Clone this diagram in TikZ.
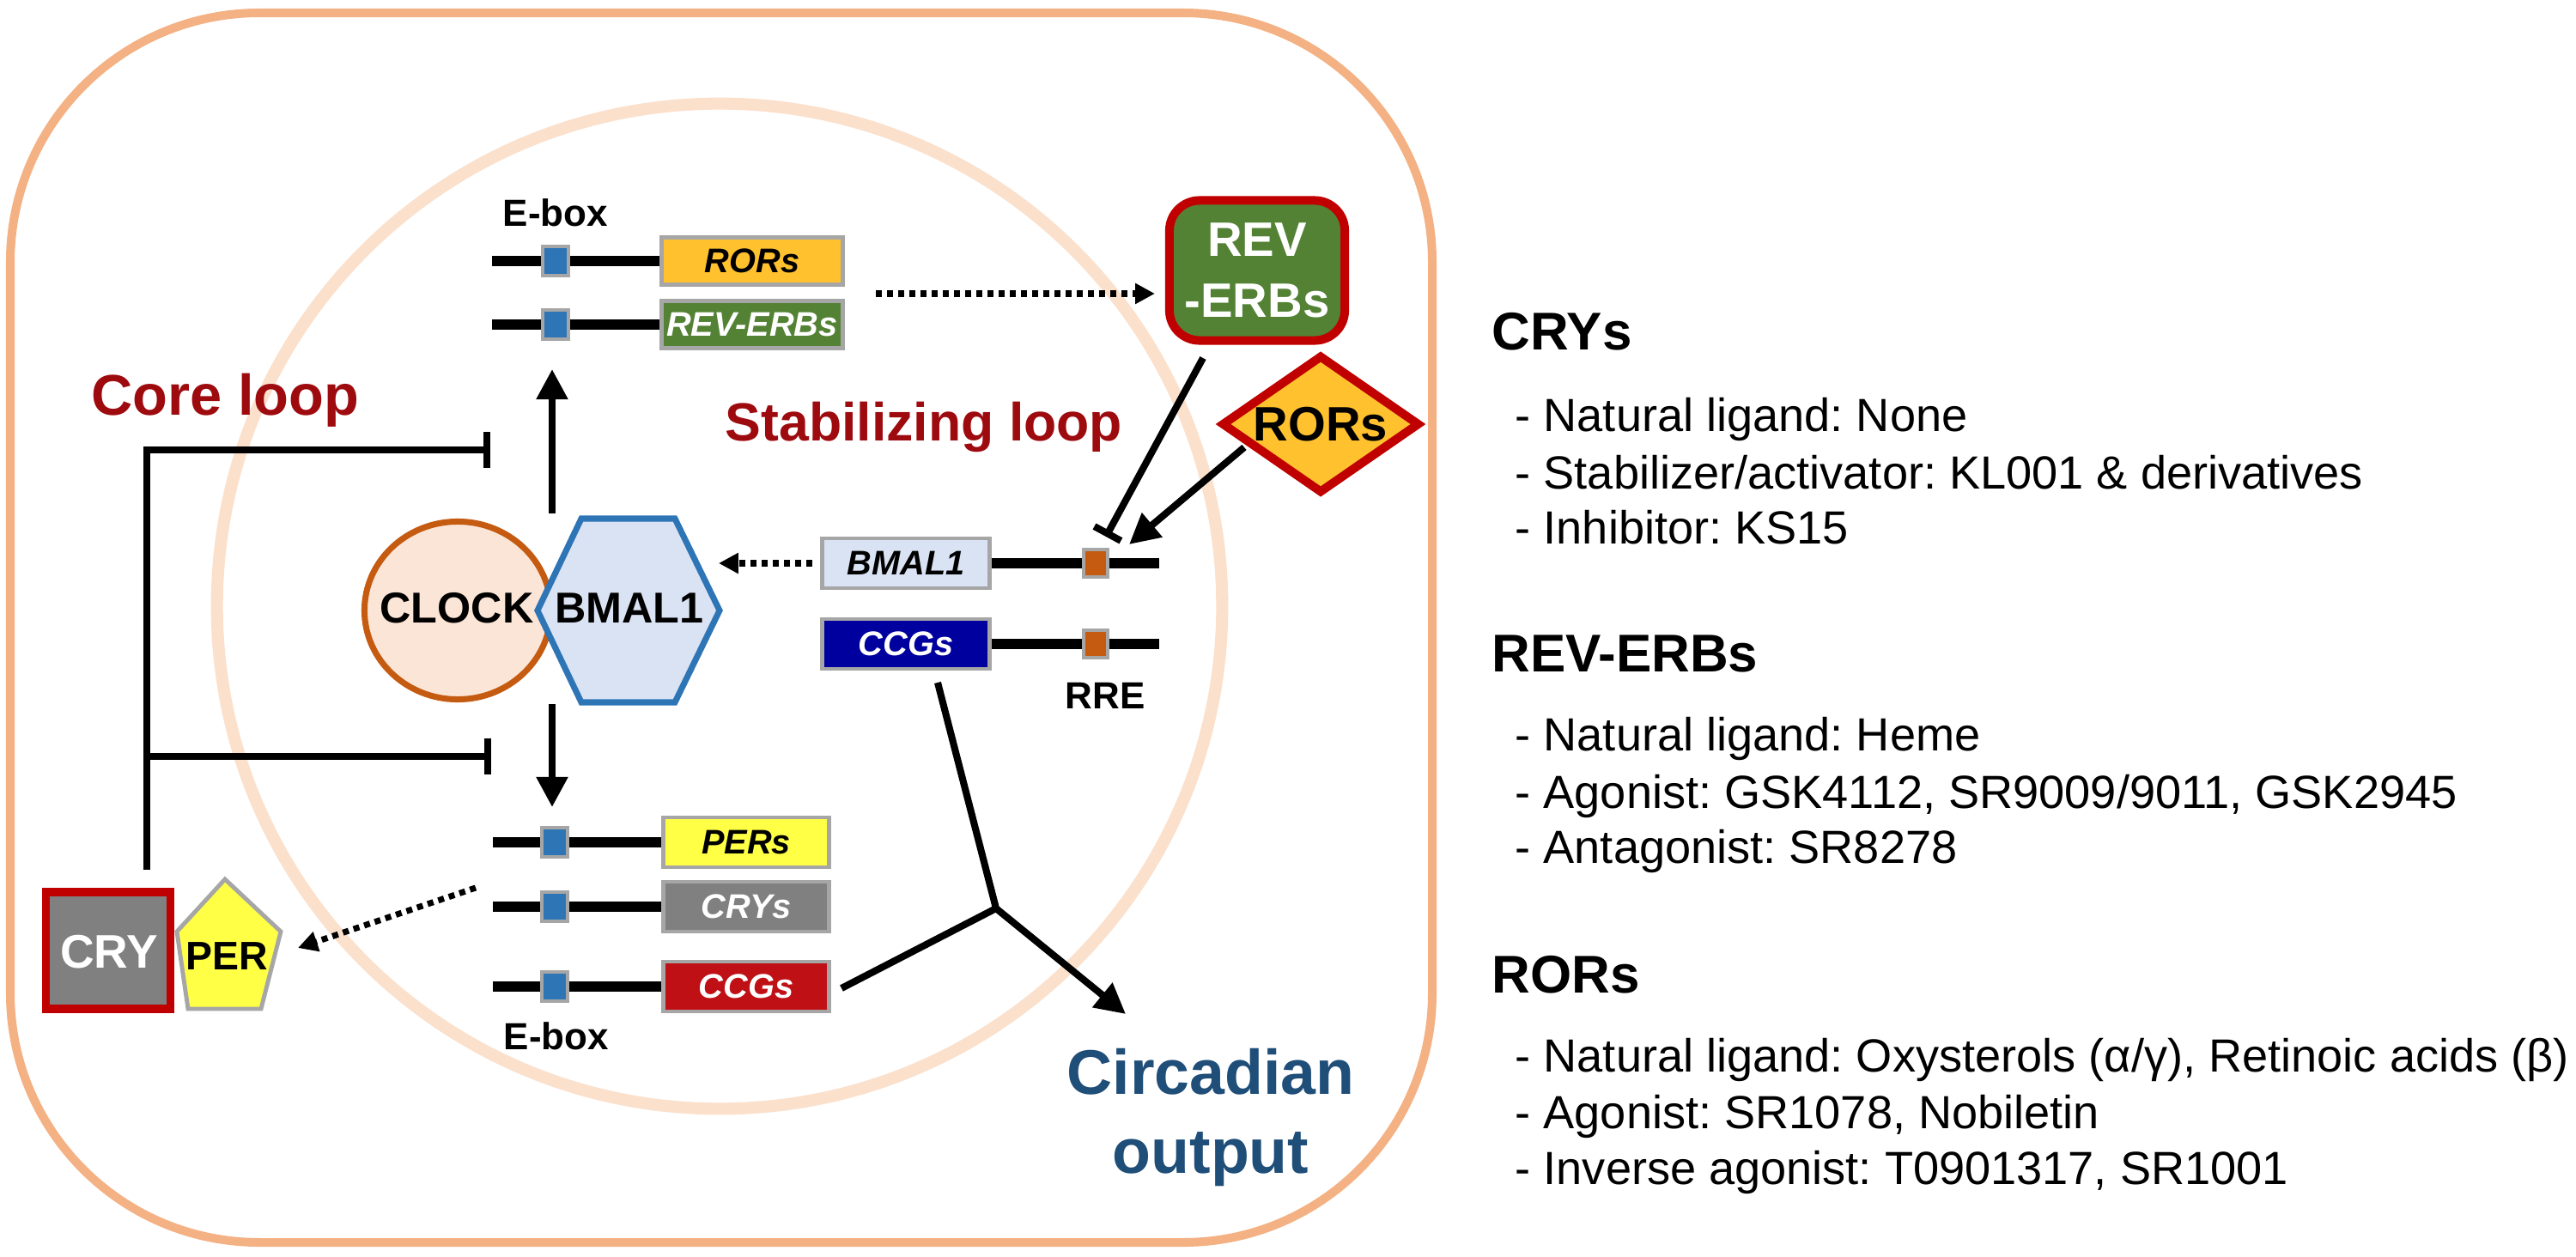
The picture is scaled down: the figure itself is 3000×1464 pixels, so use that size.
\documentclass[tikz,border=0pt]{standalone}
\usepackage{fontspec}
\setmainfont{Liberation Sans}
\frenchspacing
\usetikzlibrary{arrows.meta,shapes.geometric}
\definecolor{outerc}{HTML}{F4B183}
\definecolor{nucc}{HTML}{FBE0CC}
\definecolor{boxgray}{HTML}{A6A6A6}
\definecolor{eblue}{HTML}{2E75B6}
\definecolor{rreor}{HTML}{C55A11}
\definecolor{rorfill}{HTML}{FFC12E}
\definecolor{revgreen}{HTML}{548235}
\definecolor{darkred}{HTML}{C00000}
\definecolor{bmalfill}{HTML}{DAE3F3}
\definecolor{ccgblue}{HTML}{00009E}
\definecolor{peryel}{HTML}{FFFF45}
\definecolor{crygray}{HTML}{808080}
\definecolor{ccgred}{HTML}{BF1016}
\definecolor{clockfill}{HTML}{FBE5D6}
\definecolor{looptxt}{HTML}{9E0B0F}
\definecolor{outtxt}{HTML}{1F4E79}
\tikzset{
  gbox/.style={draw=boxgray, line width=1.4pt, inner sep=0pt, minimum width=1.93cm, minimum height=0.58cm, font=\fontsize{11.3pt}{13pt}\selectfont\bfseries\itshape},
  topbox/.style={gbox, minimum width=2.11cm, minimum height=0.55cm},
  ebox/.style={draw=boxgray, line width=1.1pt, fill=eblue, inner sep=0pt, minimum width=0.30cm, minimum height=0.34cm},
  rbox/.style={draw=boxgray, line width=1.1pt, fill=rreor, inner sep=0pt, minimum width=0.28cm, minimum height=0.32cm},
  gline/.style={line width=3.4pt},
  conn/.style={line width=2.3pt},
  arr/.style={conn, -{Triangle[length=10pt,width=10pt]}},
  inhib/.style={conn, -{Bar[width=12pt]}},
  dotarr/.style={line width=2pt, dash pattern=on 2pt off 1.7pt, -{Triangle[length=6.5pt,width=6.5pt]}},
  lbl/.style={font=\fontsize{12.5pt}{15pt}\selectfont\bfseries, inner sep=0pt},
  protf/.style={font=\fontsize{14.3pt}{16pt}\selectfont\bfseries, inner sep=0pt},
  bigf/.style={font=\fontsize{16pt}{20pt}\selectfont\bfseries, inner sep=0pt},
  headf/.style={font=\fontsize{17.6pt}{20pt}\selectfont\bfseries, inner sep=0pt, anchor=base west},
  bodyf/.style={font=\fontsize{15.4pt}{18pt}\selectfont, inner sep=0pt, anchor=base west},
}
\begin{document}
\begin{tikzpicture}[x=0.01cm,y=-0.01cm]
\useasboundingbox (0,0) rectangle (3000,1464);
\fill[white] (0,0) rectangle (3000,1464);
% nucleus and cell
\draw[draw=nucc, line width=4pt] (838,706) circle[radius=5.85cm];
\draw[draw=outerc, line width=2.85pt, rounded corners=2.9cm] (12,15) rectangle (1668,1447);

% top gene rows
\node[topbox, fill=rorfill] (gRORs) at (876,304) {RORs};
\node[topbox, fill=revgreen, text=white] (gREV) at (876,378) {REV-ERBs};
\coordinate (l1) at (573,304);
\coordinate (l2) at (573,378);
\draw[gline] (l1) -- (gRORs.west);
\draw[gline] (l2) -- (gREV.west);
\node[ebox] (e1) at (647,304) {};
\node[ebox] (e2) at (647,378) {};
\node[lbl, anchor=base west] (ebTop) at (585,264) {E-box};

% REV-ERBs protein
\node[draw=darkred, fill=revgreen, line width=2.85pt, rounded corners=0.35cm, minimum width=2.04cm, minimum height=1.63cm, align=center, text=white, font=\fontsize{16pt}{20pt}\selectfont\bfseries, inner sep=0pt] (pREV) at (1464,315) {REV\\-ERBs};
\coordinate (d1s) at (1020,342);
\draw[dotarr, shorten >=0.12cm] (d1s) -- (d1s -| pREV.west);

% RORs protein
\node[diamond, draw=darkred, fill=rorfill, line width=2.85pt, minimum width=2.31cm, minimum height=1.61cm, inner sep=0pt] (pROR) at (1538,494) {};
\node[bigf] (tROR) at (pROR) {RORs};

% loops labels
\node[font=\fontsize{19pt}{22pt}\selectfont\bfseries, text=looptxt, anchor=base west, inner sep=0pt] (core) at (106,484) {Core loop};
\node[font=\fontsize{17.8pt}{21pt}\selectfont\bfseries, text=looptxt, anchor=base west, inner sep=0pt] (stab) at (844,513) {Stabilizing loop};

% RRE rows
\node[gbox, fill=bmalfill, minimum width=1.94cm] (gBMAL) at (1055,656) {BMAL1};
\node[gbox, fill=ccgblue, text=white, minimum width=1.94cm] (gCCGb) at (1055,750) {CCGs};
\coordinate (r1) at (1350,656);
\coordinate (r2) at (1350,750);
\draw[gline] (gBMAL.east) -- (r1);
\draw[gline] (gCCGb.east) -- (r2);
\node[rbox] (o1) at (1276,656) {};
\node[rbox] (o2) at (1276,750) {};
\node[lbl, anchor=base west] (rre) at (1240,825) {RRE};

% REV-ERBs inhibits, RORs activates
\coordinate (revS) at (1401,417);
\coordinate (revE) at (1288,625);
\draw[conn, -{Bar[width=10pt]}] (revS) -- (revE);
\coordinate (rorS) at (1449,521);
\coordinate (rorE) at (1315,634);
\draw[arr] (rorS) -- (rorE);

% CLOCK : BMAL1
\node[ellipse, draw=rreor, fill=clockfill, line width=2pt, minimum width=2.17cm, minimum height=2.07cm, inner sep=0pt] (clock) at (533,711) {};
\node[protf] (tCLOCK) at (532,708) {CLOCK};
\coordinate (hL) at (626,711);
\coordinate (hTL) at (677,604);
\coordinate (hTR) at (786,604);
\coordinate (hR) at (838,711);
\coordinate (hBR) at (786,818);
\coordinate (hBL) at (677,818);
\draw[draw=eblue, fill=bmalfill, line width=2pt, line join=miter] (hL) -- (hTL) -- (hTR) -- (hR) -- (hBR) -- (hBL) -- cycle;
\node[protf] (tBMAL) at (733,708) {BMAL1};
\coordinate (bmTip) at (837,656);
\draw[dotarr, shorten <=0.09cm] (gBMAL.west) -- (bmTip);

% up / down arrows
\coordinate (upS) at (643,598);
\coordinate (upE) at (643,430);
\draw[arr] (upS) -- (upE);
\coordinate (dnS) at (643,820);
\coordinate (dnE) at (643,940);
\draw[arr] (dnS) -- (dnE);

% lower E-box rows
\node[gbox, fill=peryel] (gPER) at (869,981) {PERs};
\node[gbox, fill=crygray, text=white] (gCRY) at (869,1056) {CRYs};
\node[gbox, fill=ccgred, text=white] (gCCGr) at (869,1149) {CCGs};
\coordinate (l3) at (574,981);
\coordinate (l4) at (574,1056);
\coordinate (l5) at (574,1149);
\draw[gline] (l3) -- (gPER.west);
\draw[gline] (l4) -- (gCRY.west);
\draw[gline] (l5) -- (gCCGr.west);
\node[ebox] (e3) at (646,981) {};
\node[ebox] (e4) at (646,1056) {};
\node[ebox] (e5) at (646,1149) {};
\node[lbl, anchor=base west] (ebBot) at (586,1222) {E-box};

% CRY : PER
\node[draw=darkred, fill=crygray, line width=2.6pt, minimum width=1.45cm, minimum height=1.36cm, inner sep=0pt] (pCRY) at (126,1107) {};
\node[font=\fontsize{15.6pt}{18pt}\selectfont\bfseries, text=white, inner sep=0pt] (tCRY) at (127,1109) {CRY};
\coordinate (pT) at (262,1024);
\coordinate (pRt) at (327,1085);
\coordinate (pBR) at (304,1175);
\coordinate (pBL) at (219,1175);
\coordinate (pLf) at (206,1085);
\draw[draw=boxgray, fill=peryel, line width=1.4pt, line join=miter] (pT) -- (pRt) -- (pBR) -- (pBL) -- (pLf) -- cycle;
\node[font=\fontsize{13.2pt}{16pt}\selectfont\bfseries, inner sep=0pt] (tPER) at (264,1114) {PER};
\coordinate (cpS) at (554,1034);
\coordinate (cpE) at (347,1104);
\draw[dotarr] (cpS) -- (cpE);

% core loop repression
\coordinate (cl0) at (171,1013);
\coordinate (cl1) at (171,524);
\coordinate (cl2) at (571,524);
\coordinate (cl3) at (171,881);
\coordinate (cl4) at (572,881);
\draw[inhib, line join=miter] (cl0) -- (cl1) -- (cl2);
\draw[inhib] (cl3) -- (cl4);

% circadian output
\coordinate (ccgBs) at (1092,795);
\coordinate (J) at (1160,1058);
\coordinate (ccgRs) at (980,1151);
\coordinate (outTip) at (1311,1181);
\draw[arr, line join=miter] (ccgBs) -- (J) -- (outTip);
\draw[conn] (ccgRs) -- (J);
\node[font=\fontsize{20.9pt}{24pt}\selectfont\bfseries, text=outtxt, anchor=base, inner sep=0pt] (out1) at (1410,1274) {Circadian};
\node[font=\fontsize{20.9pt}{24pt}\selectfont\bfseries, text=outtxt, anchor=base, inner sep=0pt] (out2) at (1410,1366) {output};

% right-hand text
\node[headf] (hCRY) at (1737,408) {CRYs};
\node[bodyf] (c1) at (1764,502) {- Natural ligand: None};
\node[bodyf] (c2) at (1764,569) {- Stabilizer/activator: KL001 \& derivatives};
\node[bodyf] (c3) at (1764,633) {- Inhibitor: KS15};
\node[headf] (hREV) at (1737,782) {REV-ERBs};
\node[bodyf] (r1t) at (1764,874) {- Natural ligand: Heme};
\node[bodyf] (r2t) at (1764,941) {- Agonist: GSK4112, SR9009/9011, GSK2945};
\node[bodyf] (r3t) at (1764,1005) {- Antagonist: SR8278};
\node[headf] (hROR) at (1737,1156) {RORs};
\node[bodyf] (o1t) at (1764,1248) {- Natural ligand: Oxysterols (α/γ), Retinoic acids (β)};
\node[bodyf] (o2t) at (1764,1314) {- Agonist: SR1078, Nobiletin};
\node[bodyf] (o3t) at (1764,1379) {- Inverse agonist: T0901317, SR1001};
\end{tikzpicture}
\end{document}
